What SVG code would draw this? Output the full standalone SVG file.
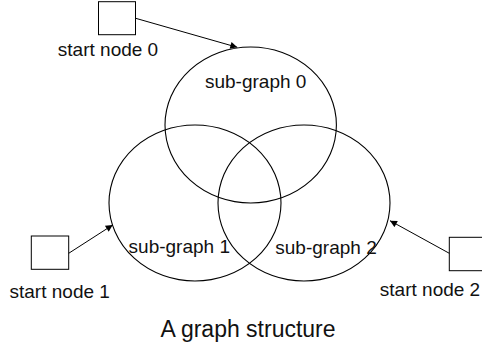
<svg xmlns="http://www.w3.org/2000/svg" width="482" height="345" viewBox="0 0 482 345">
<style>
.sg{fill:none;stroke:#000;stroke-width:1.1}
.box{fill:#fff;stroke:#000;stroke-width:1}
.lbl{font-family:"Liberation Sans",Arial,sans-serif;font-size:19px;fill:#111;text-anchor:middle}
.ttl{font-family:"Liberation Sans",Arial,sans-serif;font-size:23px;fill:#111;text-anchor:middle}
.edge{fill:none;stroke:#000;stroke-width:1}
</style>
<defs>
<marker id="ah" viewBox="0 0 10 10" refX="10" refY="5" markerWidth="9" markerHeight="7" markerUnits="userSpaceOnUse" orient="auto">
<path d="M0,0 L10,5 L0,10 z" fill="#000"/>
</marker>
</defs>
<g id="subgraph0"><ellipse class="sg" cx="250.7" cy="125" rx="85.7" ry="78"/><text class="lbl" x="255.7" y="88.3">sub-graph 0</text></g>
<g id="subgraph1"><ellipse class="sg" cx="195" cy="203" rx="86" ry="78"/><text class="lbl" x="179.3" y="253.3">sub-graph 1</text></g>
<g id="subgraph2"><ellipse class="sg" cx="304" cy="203" rx="86" ry="78"/><text class="lbl" x="326" y="254.3">sub-graph 2</text></g>
<g id="start0"><rect class="box" x="98.5" y="1.7" width="37" height="33"/><text class="lbl" x="108" y="56">start node 0</text></g>
<g id="start1"><rect class="box" x="31.3" y="236" width="37.4" height="33.3"/><text class="lbl" x="59.7" y="297.7">start node 1</text></g>
<g id="start2"><rect class="box" x="449.3" y="237.3" width="37" height="33.4"/><text class="lbl" x="430" y="295.7">start node 2</text></g>
<g id="connectors">
<line class="edge" x1="135.7" y1="18.3" x2="237.3" y2="47.3" marker-end="url(#ah)"/>
<line class="edge" x1="68.7" y1="253.3" x2="112.7" y2="225" marker-end="url(#ah)"/>
<line class="edge" x1="449.3" y1="253.3" x2="390" y2="220.7" marker-end="url(#ah)"/>
</g>
<text class="ttl" x="248" y="337.3">A graph structure</text>
</svg>
